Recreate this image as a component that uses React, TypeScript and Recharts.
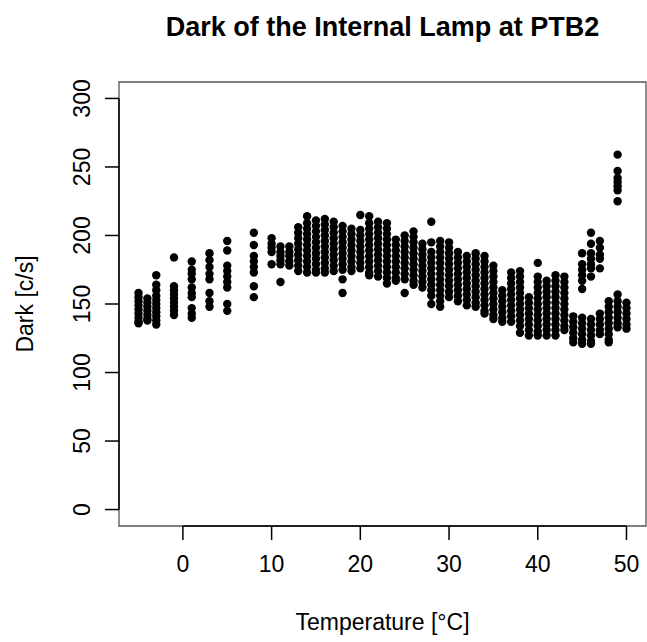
import { ScatterChart, Scatter, XAxis, YAxis, ReferenceArea, ReferenceLine } from "recharts";

// temperature columns [°C] and the dark counts read at each of them [c/s]
const temps = [
  -5, -4, -3, -1, 1, 3, 5, 8, 10, 11, 12, 13, 14, 15, 16, 17, 18, 19, 20, 21, 22, 23, 24, 25, 26,
  27, 28, 29, 30, 31, 32, 33, 34, 35, 36, 37, 38, 39, 40, 41, 42, 43, 44, 45, 46, 47, 48, 49, 50,
];

const darkByTemp: number[][] = [
  [158, 155, 152, 149, 146, 143, 140, 137, 136],
  [154, 151, 148, 145, 142, 139, 138],
  [171, 164, 160, 156, 153, 150, 147, 144, 141, 138, 135],
  [184, 163, 160, 157, 154, 151, 148, 145, 142],
  [181, 175, 172, 168, 162, 158, 155, 147, 143, 140],
  [187, 182, 177, 172, 168, 158, 152, 148],
  [196, 189, 178, 174, 170, 166, 162, 150, 145],
  [202, 193, 185, 181, 177, 173, 163, 155],
  [198, 194, 191, 188, 179],
  [192, 188, 185, 182, 179, 166],
  [192, 188, 185, 181, 178],
  [206, 202, 198, 194, 190, 186, 182, 178, 174],
  [214, 209, 205, 201, 197, 193, 189, 185, 181, 177, 173],
  [211, 207, 203, 199, 195, 191, 187, 183, 179, 175, 173],
  [212, 208, 204, 200, 196, 192, 188, 184, 180, 176, 173],
  [210, 206, 202, 198, 194, 190, 186, 182, 178, 174],
  [207, 203, 199, 195, 191, 187, 183, 179, 175, 168, 158],
  [205, 201, 197, 193, 189, 185, 181, 177, 174],
  [215, 204, 200, 196, 192, 188, 184, 180, 176],
  [214, 209, 205, 201, 197, 193, 189, 185, 181, 177, 173, 171],
  [210, 206, 202, 198, 194, 190, 186, 182, 178, 174, 170],
  [209, 205, 201, 197, 193, 189, 185, 181, 177, 173, 169, 165],
  [197, 193, 189, 185, 181, 177, 173, 169, 167],
  [200, 196, 192, 188, 184, 180, 176, 172, 168, 158],
  [203, 199, 195, 191, 187, 183, 179, 175, 171, 167, 164],
  [194, 190, 186, 182, 178, 174, 170, 166, 162],
  [210, 195, 188, 184, 180, 176, 172, 168, 164, 160, 156, 150],
  [196, 192, 188, 184, 180, 176, 172, 168, 164, 160, 156, 152, 148],
  [195, 191, 187, 183, 179, 175, 171, 167, 163, 159, 155],
  [188, 184, 180, 176, 172, 168, 164, 160, 156, 152],
  [185, 181, 177, 173, 169, 165, 161, 157, 153, 149],
  [187, 183, 179, 175, 171, 167, 163, 159, 155, 151, 148],
  [185, 181, 177, 173, 169, 165, 161, 157, 153, 149, 145, 143],
  [178, 174, 170, 166, 162, 158, 154, 150, 146, 142, 139],
  [160, 156, 152, 148, 144, 140, 137],
  [173, 169, 165, 161, 157, 153, 149, 145, 141, 137],
  [174, 170, 166, 162, 158, 154, 150, 146, 142, 138, 134, 129],
  [155, 151, 147, 143, 139, 135, 131, 127],
  [180, 170, 166, 162, 158, 154, 150, 146, 142, 138, 134, 130, 127],
  [167, 163, 159, 155, 151, 147, 143, 139, 135, 131, 127],
  [171, 167, 163, 159, 155, 151, 147, 143, 139, 135, 131, 127],
  [170, 166, 162, 158, 154, 150, 146, 142, 138, 134, 131],
  [141, 137, 133, 129, 125, 122],
  [187, 179, 175, 171, 167, 161, 140, 136, 132, 128, 124, 121],
  [202, 194, 187, 183, 179, 176, 170, 139, 135, 131, 127, 123, 121],
  [196, 191, 186, 183, 176, 143, 139, 135, 131, 128],
  [152, 148, 144, 140, 136, 132, 128, 124, 122],
  [259, 247, 242, 239, 236, 233, 225, 157, 152, 148, 144, 140, 136, 133],
  [151, 147, 143, 139, 135, 132],
];

const xTicks = [0, 10, 20, 30, 40, 50];
const yTicks = [0, 50, 100, 150, 200, 250, 300];

const points = temps.flatMap((t, i) => darkByTemp[i].map((d) => ({ temp: t, dark: d })));

// R style 4% padding around the data range
const X_DOMAIN: [number, number] = [-7.2, 52.2];
const Y_DOMAIN: [number, number] = [-12, 312];

const FONT = '"Liberation Sans", Arial, Helvetica, sans-serif';
const W = 647;
const H = 642;

function YTick(props: any) {
  const { x, y, payload } = props;
  return (
    <text
      x={x}
      y={y}
      transform={`rotate(-90, ${x}, ${y})`}
      textAnchor="middle"
      fontSize={23}
      fontFamily={FONT}
      fill="#000"
    >
      {payload.value}
    </text>
  );
}

function Dot(props: any) {
  return <circle cx={props.cx} cy={props.cy} r={4.2} fill="#000" />;
}

export default function App() {
  return (
    <div style={{ position: "absolute", left: 0, top: 0, width: W, height: H, background: "#fff" }}>
      <ScatterChart width={W} height={H} margin={{ top: 82, right: 1, bottom: 26, left: 79 }}>
        <ReferenceArea
          x1={X_DOMAIN[0]}
          x2={X_DOMAIN[1]}
          y1={Y_DOMAIN[0]}
          y2={Y_DOMAIN[1]}
          fill="none"
          fillOpacity={0}
          stroke="#555"
          strokeWidth={1.3}
          ifOverflow="visible"
        />
        <XAxis
          dataKey="temp"
          type="number"
          domain={X_DOMAIN}
          allowDataOverflow
          ticks={xTicks}
          height={90}
          axisLine={false}
          tickSize={14}
          tickMargin={16}
          tickLine={{ stroke: "#000", strokeWidth: 1.5 }}
          tick={{ fontSize: 23, fill: "#000", fontFamily: FONT }}
        />
        <YAxis
          dataKey="dark"
          type="number"
          domain={Y_DOMAIN}
          allowDataOverflow
          ticks={yTicks}
          width={40}
          axisLine={false}
          tickSize={14}
          tickMargin={15}
          tickLine={{ stroke: "#000", strokeWidth: 1.5 }}
          tick={<YTick />}
        />
        <ReferenceLine
          segment={[{ x: xTicks[0], y: Y_DOMAIN[0] }, { x: xTicks[xTicks.length - 1], y: Y_DOMAIN[0] }]}
          stroke="#000"
          strokeWidth={1.5}
          ifOverflow="visible"
        />
        <ReferenceLine
          segment={[{ x: X_DOMAIN[0], y: yTicks[0] }, { x: X_DOMAIN[0], y: yTicks[yTicks.length - 1] }]}
          stroke="#000"
          strokeWidth={1.5}
          ifOverflow="visible"
        />
        <Scatter data={points} shape={<Dot />} isAnimationActive={false} />
      </ScatterChart>
      <svg
        width={W}
        height={H}
        style={{ position: "absolute", left: 0, top: 0, pointerEvents: "none" }}
        fontFamily={FONT}
      >
        <text x={382.5} y={36} textAnchor="middle" fontSize={27} fontWeight="bold" fill="#000">
          Dark of the Internal Lamp at PTB2
        </text>
        <text x={382.5} y={630} textAnchor="middle" fontSize={23} fill="#000">
          Temperature [°C]
        </text>
        <text x={33} y={304} transform="rotate(-90, 33, 304)" textAnchor="middle" fontSize={23} fill="#000">
          Dark [c/s]
        </text>
      </svg>
    </div>
  );
}
